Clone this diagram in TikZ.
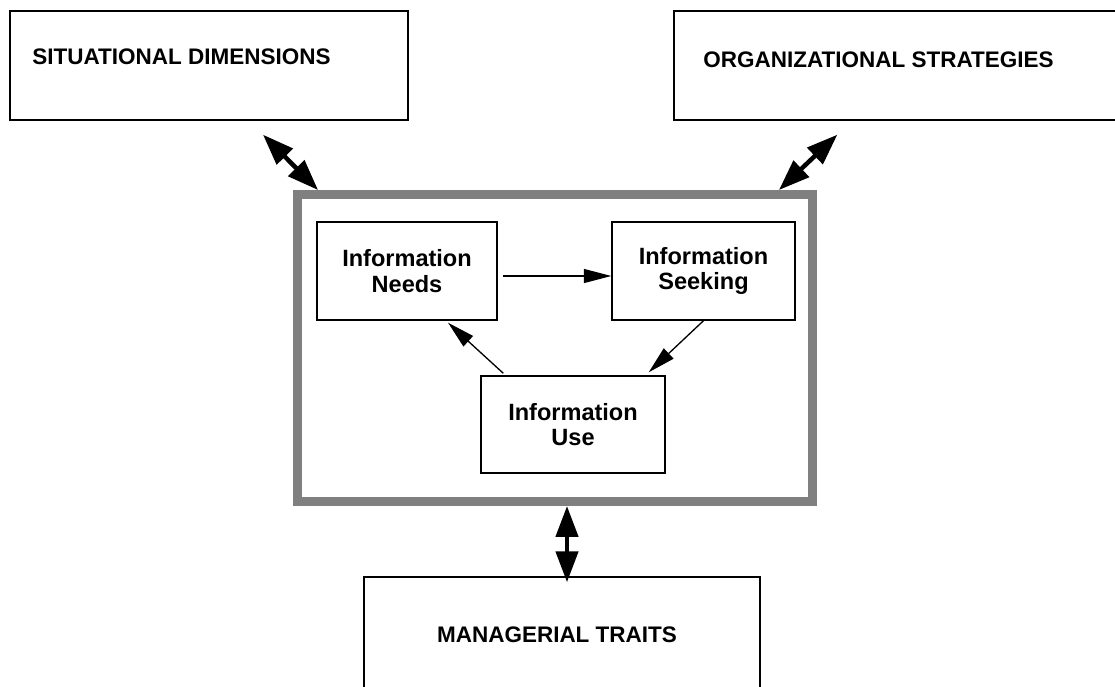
\documentclass[tikz,border=0pt]{standalone}
\usepackage{fontspec}
\setmainfont{Liberation Sans}
\usetikzlibrary{arrows.meta,calc}
\begin{document}
\begin{tikzpicture}[x=0.02cm, y=-0.02cm,
    mybox/.style={draw, line width=0.8pt, inner sep=0pt},
    mytitle/.style={inner sep=0pt, font=\fontsize{12.8}{14}\selectfont\bfseries},
    mystage/.style={mybox, align=center, font=\fontsize{13.4}{14.5}\selectfont\bfseries},
    bigarrow/.style={{Triangle[length=0.62cm,width=0.44cm]}-{Triangle[length=0.62cm,width=0.44cm]}, line width=0.09cm},
    smallarrow/.style={-{Triangle[length=0.55cm,width=0.28cm]}, line width=0.75pt}]
    \useasboundingbox (0,0) rectangle (1115,686);
    \clip (0,0) rectangle (1115,686);
    \node[mybox, minimum width=7.96cm, minimum height=2.18cm] (sit) at (209,65.5) {};
    \node[mytitle, anchor=west] (sittxt) at (32,57) {SITUATIONAL DIMENSIONS};
    \node[mybox, minimum width=9.12cm, minimum height=2.18cm] (org) at (902,65.5) {};
    \node[mytitle, anchor=west] (orgtxt) at (703,60) {ORGANIZATIONAL STRATEGIES};
    \node[draw=black!50, line width=0.18cm, minimum width=10.3cm, minimum height=6.14cm] (frame) at (555,348) {};
    \node[mystage, minimum width=3.6cm, minimum height=1.96cm] (needs) at (407,271) {Information\\Needs};
    \node[mystage, minimum width=3.66cm, minimum height=1.96cm] (seek) at (703.5,271) {Information\\Seeking};
    \node[mystage, minimum width=3.68cm, minimum height=1.94cm] (use) at (573,424.5) {Information\\Use};
    \node[mybox, minimum width=7.92cm, minimum height=2.46cm] (mgr) at (562,638.5) {};
    \node[mytitle] (mgrtxt) at (557,635) {MANAGERIAL TRAITS};
    \draw[bigarrow] ($(sit.south)+(54,14)$) -- ($(frame.north west)+(25,0)$);
    \draw[bigarrow] ($(frame.north east)+(-38,0)$) -- ($(org.south west)+(164,14)$);
    \draw[bigarrow] ($(frame.south)+(12,0)$) -- ($(mgr.north)+(5,6)$);
    \draw[smallarrow] ($(needs.east)+(5,5)$) -- ($(seek.west)+(0,5)$);
    \draw[smallarrow] (seek.south) -- ($(use.north east)+(-17,-3)$);
    \draw[smallarrow] ($(use.north west)+(23,-2)$) -- ($(needs.south)+(41,2)$);
\end{tikzpicture}
\end{document}
